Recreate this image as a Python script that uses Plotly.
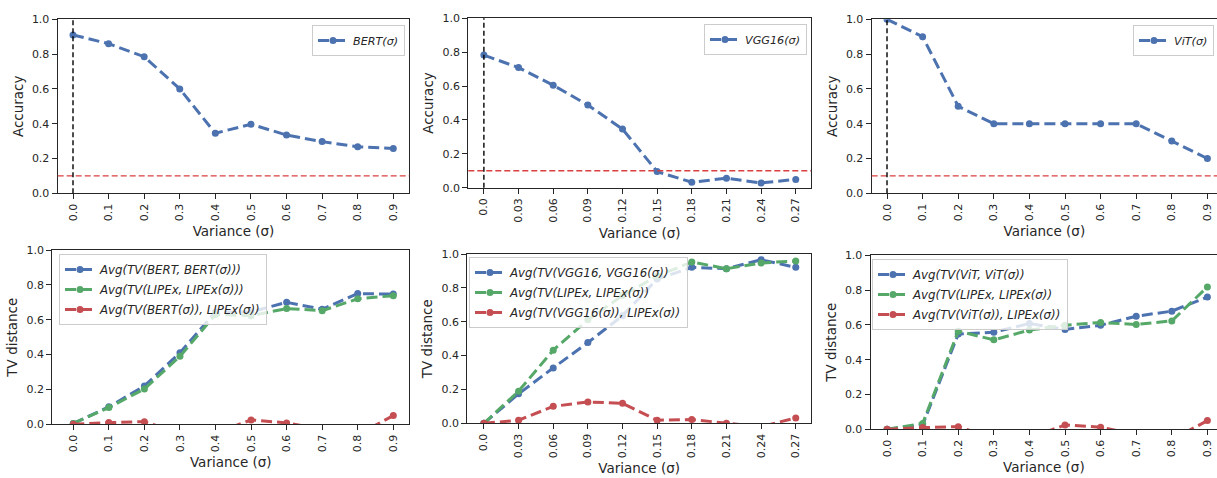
import plotly.graph_objects as go

# ---------------- data ----------------
bert_sigma = ["0.0", "0.1", "0.2", "0.3", "0.4", "0.5", "0.6", "0.7", "0.8", "0.9"]
vgg_sigma = ["0.0", "0.03", "0.06", "0.09", "0.12", "0.15", "0.18", "0.21", "0.24", "0.27"]
vit_sigma = ["0.0", "0.1", "0.2", "0.3", "0.4", "0.5", "0.6", "0.7", "0.8", "0.9"]

bert_acc = [0.91, 0.86, 0.785, 0.60, 0.345, 0.397, 0.335, 0.297, 0.267, 0.258]
vgg_acc = [0.783, 0.709, 0.605, 0.488, 0.346, 0.095, 0.032, 0.056, 0.028, 0.049]
vit_acc = [1.0, 0.9, 0.5, 0.4, 0.4, 0.4, 0.4, 0.4, 0.3, 0.2]

bert_tv_model = [0.005, 0.10, 0.22, 0.41, 0.645, 0.645, 0.70, 0.66, 0.75, 0.747]
bert_tv_lipex = [0.005, 0.096, 0.203, 0.39, 0.63, 0.623, 0.664, 0.652, 0.72, 0.738]
bert_tv_cross = [0.0, 0.01, 0.015, -0.05, -0.05, 0.025, 0.008, -0.03, -0.06, 0.05]

vgg_tv_model = [0.0, 0.174, 0.327, 0.477, 0.635, 0.852, 0.921, 0.913, 0.966, 0.921]
vgg_tv_lipex = [0.0, 0.19, 0.432, 0.611, 0.755, 0.87, 0.953, 0.913, 0.947, 0.959]
vgg_tv_cross = [0.0, 0.018, 0.10, 0.126, 0.118, 0.018, 0.022, 0.0, -0.02, 0.032]

vit_tv_model = [0.0, 0.025, 0.547, 0.558, 0.608, 0.574, 0.598, 0.65, 0.679, 0.76]
vit_tv_lipex = [0.0, 0.034, 0.564, 0.514, 0.57, 0.598, 0.614, 0.602, 0.623, 0.818]
vit_tv_cross = [0.0, 0.01, 0.015, -0.05, -0.05, 0.025, 0.012, -0.03, -0.06, 0.05]

chance_level = 0.1
y_ticks = [0.0, 0.2, 0.4, 0.6, 0.8, 1.0]

top_names = ["<i>BERT(σ)</i>", "<i>VGG16(σ)</i>", "<i>ViT(σ)</i>"]
bottom_names = [
    ["<i>Avg(TV(BERT, BERT(σ)))</i>", "<i>Avg(TV(LIPEx, LIPEx(σ)))</i>", "<i>Avg(TV(BERT(σ)), LIPEx(σ))</i>"],
    ["<i>Avg(TV(VGG16, VGG16(σ))</i>", "<i>Avg(TV(LIPEx, LIPEx(σ))</i>", "<i>Avg(TV(VGG16(σ)), LIPEx(σ))</i>"],
    ["<i>Avg(TV(ViT, ViT(σ))</i>", "<i>Avg(TV(LIPEx, LIPEx(σ))</i>", "<i>Avg(TV(ViT(σ)), LIPEx(σ))</i>"],
]

# ---------------- style ----------------
W, H = 1217, 478
BLUE, GREEN, RED = "#4C72B0", "#55A868", "#C44E52"
INK = "#262626"
FONT = "DejaVu Sans"

def fx(p):
    return p / W

def fy(p):
    return 1 - p / H

# panel boxes in pixels: (left, right, top, bottom), x-range
panels = [
    dict(box=(57.7, 409.3, 19.3, 193.3), xr=[-0.43, 9.45], labels=bert_sigma),
    dict(box=(468.3, 811.0, 18.3, 187.7), xr=[-0.45, 9.44], labels=vgg_sigma),
    dict(box=(871.7, 1217.0, 19.3, 193.3), xr=[-0.43, 9.27], labels=vit_sigma),
    dict(box=(52.3, 409.3, 250.0, 424.3), xr=[-0.59, 9.45], labels=bert_sigma),
    dict(box=(467.3, 811.0, 254.0, 423.3), xr=[-0.48, 9.44], labels=vgg_sigma),
    dict(box=(870.7, 1217.0, 255.3, 429.3), xr=[-0.46, 9.27], labels=vit_sigma),
]

fig = go.Figure()
layout = dict(
    width=W, height=H,
    margin=dict(l=0, r=0, t=0, b=0, autoexpand=False),
    paper_bgcolor="white", plot_bgcolor="white",
    font=dict(family=FONT, color=INK),
    shapes=[],
    showlegend=True,
)

for i, p in enumerate(panels):
    k = i + 1
    sfx = "" if k == 1 else str(k)
    l, r, t, b = p["box"]
    right_edge = (i % 3 == 2)
    layout["xaxis" + sfx] = dict(
        domain=[fx(l), fx(r)], range=p["xr"], anchor="y" + sfx,
        tickmode="array", tickvals=list(range(len(p["labels"]))), ticktext=p["labels"],
        tickangle=-90, ticks="outside", ticklen=5, tickwidth=1.25, tickcolor=INK,
        showline=True, linecolor=INK, linewidth=1.25, mirror=True,
        showgrid=False, zeroline=False, automargin=False,
        tickfont=dict(size=11, color=INK, family=FONT),
        title=dict(text="Variance (σ)", font=dict(size=13.5, color=INK, family=FONT), standoff=6),
    )
    layout["yaxis" + sfx] = dict(
        domain=[fy(b), fy(t)], range=[0, 1], anchor="x" + sfx,
        tickmode="array", tickvals=y_ticks, ticktext=[f"{v:.1f}" for v in y_ticks],
        ticks="outside", ticklen=5, tickwidth=1.25, tickcolor=INK,
        showline=True, linecolor=INK, linewidth=1.25, mirror=not right_edge,
        showgrid=False, zeroline=False, automargin=False,
        tickfont=dict(size=11, color=INK, family=FONT),
        title=dict(text="Accuracy" if i < 3 else "TV distance",
                   font=dict(size=13.5, color=INK, family=FONT), standoff=5),
    )

def line_trace(xs, ys, name, color, k, legend, group):
    sfx = "" if k == 1 else str(k)
    return go.Scatter(
        x=xs, y=ys, name=name, mode="lines+markers",
        line=dict(color=color, width=3, dash="11px,5px"),
        marker=dict(color=color, size=7),
        xaxis="x" + sfx, yaxis="y" + sfx, legend=legend,
        legendgroup=group, showlegend=True,
    )

top_data = [bert_acc, vgg_acc, vit_acc]
bottom_data = [
    (bert_tv_model, bert_tv_lipex, bert_tv_cross),
    (vgg_tv_model, vgg_tv_lipex, vgg_tv_cross),
    (vit_tv_model, vit_tv_lipex, vit_tv_cross),
]

for i in range(3):
    k = i + 1
    xs = list(range(len(panels[i]["labels"])))
    leg = "legend" if k == 1 else "legend" + str(k)
    fig.add_trace(line_trace(xs, top_data[i], top_names[i], BLUE, k, leg, f"g{k}"))
    sfx = "" if k == 1 else str(k)
    # chance level
    layout["shapes"].append(dict(type="line", xref="x" + sfx + " domain", yref="y" + sfx,
                                 x0=0, x1=1, y0=chance_level, y1=chance_level,
                                 line=dict(color="#d9403f", width=1.4, dash="6px,3px"), layer="above"))
    # sigma = 0 marker
    layout["shapes"].append(dict(type="line", xref="x" + sfx, yref="y" + sfx + " domain",
                                 x0=0, x1=0, y0=0, y1=1,
                                 line=dict(color="black", width=1.4, dash="5px,3px"), layer="above"))

for i in range(3):
    k = i + 4
    xs = list(range(len(panels[k - 1]["labels"])))
    leg = "legend" + str(k)
    for j, (ys, nm, col) in enumerate(zip(bottom_data[i], bottom_names[i], [BLUE, GREEN, RED])):
        fig.add_trace(line_trace(xs, ys, nm, col, k, leg, f"g{k}_{j}"))

# legends: (left px, top px, font size, group gap)
legend_pos = [(312, 25, 11.2, 0), (704, 24, 11.2, 0), (1133, 25, 11.2, 0),
              (59, 254, 11.8, 1), (469, 257, 11.8, 1), (872, 259, 11.8, 1)]
for i, (lx, ty, fs, gap) in enumerate(legend_pos):
    key = "legend" if i == 0 else "legend" + str(i + 1)
    layout[key] = dict(
        x=fx(lx), y=fy(ty), xanchor="left", yanchor="top",
        bgcolor="rgba(255,255,255,0.8)", bordercolor="#cccccc", borderwidth=1,
        font=dict(size=fs, color=INK, family=FONT), itemwidth=30, tracegroupgap=gap,
        visible=True,
    )

fig.update_layout(**layout)
fig.write_html("out.html", config={"displayModeBar": False},
               post_script="document.body.style.margin='0px';")
